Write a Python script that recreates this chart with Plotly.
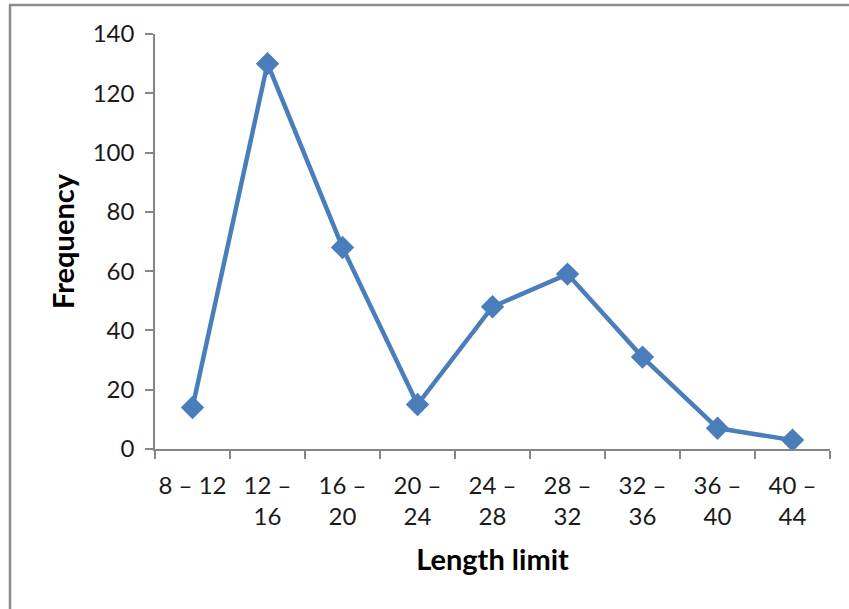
import plotly.graph_objects as go

categories = ["8 – 12", "12 –<br>16", "16 –<br>20", "20 –<br>24", "24 –<br>28",
              "28 –<br>32", "32 –<br>36", "36 –<br>40", "40 –<br>44"]
frequency = [14, 130, 68, 15, 48, 59, 31, 7, 3]
y_ticks = [0, 20, 40, 60, 80, 100, 120, 140]

W, H = 849, 609
L, R, T, B = 155, 19, 34, 160
pw, ph = W - L - R, H - T - B

def px(x):
    return (x - L) / pw

def py(y):
    return (H - B - y) / ph

font_family = "Lato, Carlito, Calibri, sans-serif"
axis_color = "#868686"

fig = go.Figure(go.Scatter(
    x=categories, y=frequency, mode="lines+markers",
    line=dict(color="#4a7ebb", width=4.5),
    marker=dict(symbol="diamond", size=18, color="#4a7ebb"),
    showlegend=False,
))

fig.update_layout(
    width=W, height=H,
    margin=dict(l=L, r=R, t=T, b=B, autoexpand=False),
    paper_bgcolor="white", plot_bgcolor="white",
    font=dict(family=font_family, color="#1a1a1a", size=24),
    xaxis=dict(
        type="category", showgrid=False, showline=True, linecolor=axis_color, linewidth=1.5,
        ticks="outside", tickson="boundaries", ticklen=8, tickcolor=axis_color, tickwidth=1.5,
        tickfont=dict(size=24), range=[-0.5, 8.5], ticklabelstandoff=14, tickangle=0,
        title=dict(text="<b>Length limit</b>", font=dict(size=29, color="black"), standoff=21),
    ),
    yaxis=dict(
        range=[0, 140], tickvals=y_ticks, showgrid=False, zeroline=False,
        showline=True, linecolor=axis_color, linewidth=1.5,
        ticks="outside", ticklen=8, tickcolor=axis_color, tickwidth=1.5,
        tickfont=dict(size=24), ticklabelstandoff=6,
        title=dict(text="<b>Frequency</b>", font=dict(size=29, color="black"), standoff=10),
    ),
    shapes=[
        dict(type="line", xref="paper", yref="paper", x0=px(9), x1=px(W + 2), y0=py(5), y1=py(5),
             line=dict(color="#8c8c8c", width=2.5)),
        dict(type="line", xref="paper", yref="paper", x0=px(10), x1=px(10), y0=py(5), y1=py(H + 2),
             line=dict(color="#8c8c8c", width=2.5)),
    ],
)

fig.write_html("out.html")
